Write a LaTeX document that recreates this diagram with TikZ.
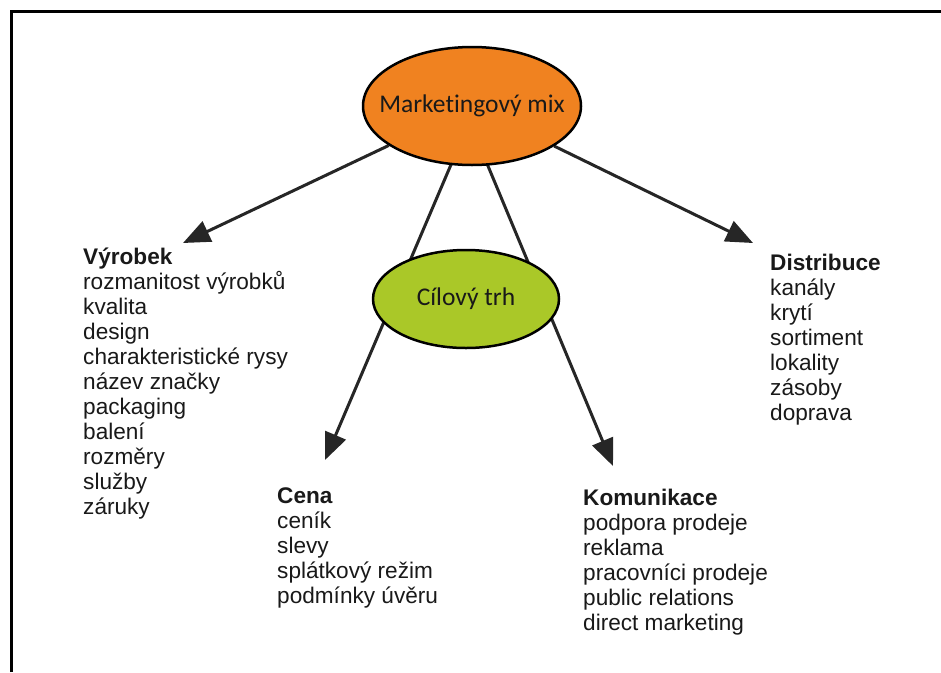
\documentclass[tikz,border=0pt]{standalone}
\usepackage{fontspec}
\setmainfont{Liberation Sans}
\newfontfamily\calib[Ligatures=NoCommon]{Carlito}
\usetikzlibrary{arrows.meta,shapes.geometric}
\definecolor{mixorange}{RGB}{240,130,32}
\definecolor{trhgreen}{RGB}{170,200,40}
\definecolor{arrowgray}{RGB}{38,38,38}
\pgfdeclarelayer{paper}
\pgfdeclarelayer{bg}
\pgfsetlayers{paper,bg,main}
\tikzset{
  bubble/.style={ellipse, draw=black, line width=2.5pt, inner sep=0pt},
  bubbletext/.style={font=\calib\fontsize{25.5}{30}\selectfont, text=black!90},
  conn/.style={draw=arrowgray, line width=3pt, -{Triangle[length=27pt,width=22pt]}},
  listtext/.style={anchor=base west, inner sep=0pt, font=\fontsize{22.6}{25}\selectfont, text=black!90},
  frameline/.style={line width=3.5pt, draw=black}
}
\begin{document}
\begin{tikzpicture}[x=1pt,y=-1pt]
\useasboundingbox (0,0) rectangle (941,672);
\begin{pgfonlayer}{paper}
\fill[white] (0,0) rectangle (941,672);
\end{pgfonlayer}
\draw[frameline] (11.7,672) -- (11.7,11.7) -- (941,11.7);

\node[bubble, fill=mixorange, minimum width=218pt, minimum height=118pt,
      label={[bubbletext]center:Marketingový mix}] (mix) at (472,106) {};
\node[bubble, fill=trhgreen, minimum width=186pt, minimum height=98pt,
      label={[bubbletext]center:Cílový trh}] (trh) at (466,299) {};

\coordinate (tipV) at (183,243);
\coordinate (tipD) at (753,243);
\coordinate (tipC) at (325,460);
\coordinate (tipK) at (613,466);
\coordinate (mixc1) at ([xshift=4pt]mix.center);
\coordinate (mixc2) at ([xshift=-9pt]mix.center);

\begin{pgfonlayer}{bg}
\draw[conn] (mix) -- (tipV);
\draw[conn] (mix) -- (tipD);
\draw[conn] (mixc1) -- (tipC);
\draw[conn] (mixc2) -- (tipK);
\end{pgfonlayer}

\node[listtext] (vyrobek) at (83,264) {\begin{tabular}[t]{@{}l@{}}\textbf{Výrobek}\\rozmanitost výrobků\\kvalita\\design\\charakteristické rysy\\název značky\\packaging\\balení\\rozměry\\služby\\záruky\end{tabular}};

\node[listtext] (distribuce) at (770,270) {\begin{tabular}[t]{@{}l@{}}\textbf{Distribuce}\\kanály\\krytí\\sortiment\\lokality\\zásoby\\doprava\end{tabular}};

\node[listtext] (cena) at (277,503) {\begin{tabular}[t]{@{}l@{}}\textbf{Cena}\\ceník\\slevy\\splátkový režim\\podmínky úvěru\end{tabular}};

\node[listtext] (komunikace) at (583,505) {\begin{tabular}[t]{@{}l@{}}\textbf{Komunikace}\\podpora prodeje\\reklama\\pracovníci prodeje\\public relations\\direct marketing\end{tabular}};
\end{tikzpicture}
\end{document}
